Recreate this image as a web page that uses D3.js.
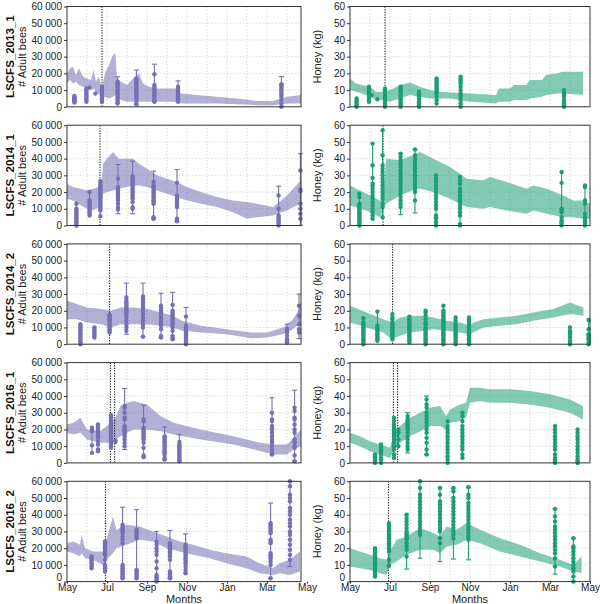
<!DOCTYPE html>
<html>
<head>
<meta charset="utf-8">
<script src="https://cdn.jsdelivr.net/npm/d3@7"></script>
<style>
body { margin: 0; background: #fff; }
svg text { font-family: "Liberation Sans", Arial, sans-serif; }
</style>
</head>
<body>
<svg id="chart" width="600" height="604"></svg>
<script>
// months since 1 May; bees in thousands, honey in kg
var colonies = ['LSCFS_2013_1', 'LSCFS_2014_1', 'LSCFS_2014_2', 'LSCFS_2016_1', 'LSCFS_2016_2']
var monthLabels = ['May', 'Jul', 'Sep', 'Nov', 'Jan', 'Mar', 'May']
var yTicks = [0, 10, 20, 30, 40, 50, 60]

var events_2013_1 = [1.75]
var events_2014_1 = [1.65]
var events_2014_2 = [2.13]
var events_2016_1 = [2.17, 2.38]
var events_2016_2 = [1.92]

// [month, low, high]
var beesBand_2013_1 = [[0,14,20],[0.15,16,23],[0.3,14,24],[0.45,15,19],[0.6,13,23],[0.8,12,18],[1.0,11,17],[1.2,10,16],[1.33,11,22],[1.45,9,15],[1.58,8,18],[1.75,5,12],[1.9,6,20],[2.1,5,25],[2.3,6,31],[2.42,7,32],[2.5,6,17],[2.7,4,15],[3.0,3,13],[3.3,3,17],[3.6,3,20],[3.8,3,14],[4.1,3,12],[4.5,3,11],[5.0,3,11],[5.5,3,11],[5.7,2,8],[6.5,2,7],[7.5,2,6],[8.5,1.5,5],[9.5,1,3.5],[10.3,1,3.5],[11.0,2,6],[11.7,2,7]]
var beesBand_2014_1 = [[0,16,25],[0.3,15,23],[0.7,12,22],[1.0,10,21],[1.3,9,22],[1.6,11,23],[1.72,12,24],[1.8,19,37],[2.0,20,40],[2.3,21,44],[2.6,22,40],[3.0,23,40],[3.3,24,40],[3.6,24,37],[4.0,23,34],[4.5,21,30],[5.0,19,28],[5.5,17,26],[6.0,15,23],[6.7,13,20],[7.5,11,17],[8.3,8,15],[9.0,4,14],[9.5,5,13],[10.3,6,11],[11.0,9,18],[11.3,11,22],[11.7,13,27]]
var beesBand_2014_2 = [[0,15,26],[0.5,15,24],[1.0,13,22],[1.7,12,21],[2.2,10,20],[2.7,12,22],[3.3,12,22],[4.0,12,21],[4.7,11,19],[5.3,10,17],[5.75,8,14],[6.7,7,11],[8.0,6,9],[9.2,3.5,7],[10.0,4,7],[10.8,6,10],[11.3,9,15],[11.7,13,23]]
var beesBand_2016_1 = [[0,18,23],[0.33,17,24],[0.67,18,27],[1.0,14,20],[1.67,12,19],[2.17,12,24],[2.42,14,27],[2.67,16,34],[3.0,18,36],[3.33,20,37],[4.0,20,35],[4.67,19,28],[5.33,17,24],[6.67,14,20],[8.33,11,16],[9.67,7,12],[10.33,5,11],[11.0,5,11],[11.33,8,15],[11.7,10,20]]
var beesBand_2016_2 = [[0,18,23],[0.32,17,24],[0.65,15,22],[0.73,17,28],[0.9,14,20],[1.3,13,18],[1.8,10,18],[1.97,13,25],[2.3,17,39],[2.47,20,31],[2.97,22,34],[3.63,25,33],[4.3,24,30],[4.97,20,27],[5.63,18,24],[6.3,16,22],[7.13,14,19],[7.97,11,17],[8.97,8,15],[9.63,5,11],[10.3,4,8],[10.63,5,11],[11.13,4,13],[11.65,6,18]]

var honeyBand_2013_1 = [[0,10,17],[0.3,9,14],[0.6,8,13],[1.0,6,12],[1.3,4,9],[1.6,4,9],[2.0,3,10],[2.5,5,13],[3.0,7,14.5],[3.5,6,12],[4.0,5,10],[4.5,5,9],[5.0,5,8.5],[6.0,3,8],[7.3,2,7],[7.45,3,11],[8.0,3,11],[8.2,4,13],[8.8,4,13],[9.0,5,16],[9.6,6,16],[9.8,7,19],[10.4,8,20],[10.6,8,21],[11.65,7,21]]
var honeyBand_2014_1 = [[0,12,24],[0.83,9,19],[1.5,5,15],[1.67,9,18],[1.8,13,40],[2.5,18,39],[3.33,22,43],[3.5,22,44],[4.17,20,40],[5.0,16,35],[5.5,13,31],[5.83,11,28],[6.67,10,27],[7.0,11,29],[7.83,9,26],[8.83,7,22],[9.17,9,24],[9.83,7,22],[10.67,5,18],[11.17,5,15],[11.67,4,15],[12,4,13]]
var honeyBand_2014_2 = [[0,13,23],[0.83,10,19],[1.67,7,15],[2.08,3,13],[2.5,5,16],[3.0,7,17],[3.67,8,17],[4.17,9,16],[4.83,8,14],[5.5,7,13],[6.0,6,11],[6.17,7,13],[6.67,10,15],[7.5,11,16],[8.33,12,17],[9.17,14,19],[10.17,16,21],[11.0,18,25],[11.67,17,22]]
var honeyBand_2016_1 = [[0,12,18],[0.5,10,16],[1.0,7,13],[1.5,5,11],[2.0,3,9],[2.2,8,18],[2.5,12,22],[3.0,16,27],[3.5,19,30],[4.0,22,33],[4.5,22,34],[4.8,20,28],[5.0,24,32],[5.5,25,35],[5.8,27,36],[6.0,36,45],[6.5,37,45],[7.0,36,44],[8.0,36,44],[9.0,35,43],[10.0,33,41],[11.0,30,38],[11.65,26,34]]
var honeyBand_2016_2 = [[0,9,20],[0.5,8,18],[1.0,7,16],[1.5,5,14],[1.83,4,13],[2.0,10,18],[2.33,12,25],[2.83,16,27],[3.5,19,32],[4.17,19,29],[4.5,17,27],[4.83,21,33],[5.33,22,31],[5.83,25,35],[6.5,23,31],[7.5,18,26],[8.5,15,22],[9.5,12,17],[10.5,9,13],[11.17,6,10],[11.58,5,15]]

// [month, observed values, whisker [low, high] or null]
var beesObs_2013_1 = [[0.37,[2.5,3,3.5,4,4.5,5,5.5,6,6.5],null],[0.97,[3,4,5,6,7,8,9,10,11],null],[1.12,[11.5],null],[1.42,[8],null],[1.75,[3,4,5,6,7,8,9,10,11,12],null],[2.53,[2,3,4,5,6,7,8,9,10,11,12,13,14,15],[2,18]],[3.47,[1.5,3,5,6,7,8,9,10,11,12,13,14,15,16,17],[1.5,22]],[4.37,[3,4,5,6,7,8,9,10,11,12,13,19.5],[3,25.5]],[5.55,[3,4,5,6,7,8,9,10,11,12],[3,15.5]],[10.72,[0,2,4,6,7,8,9,10,11,12,13,13.5],[0,18]]]
var beesObs_2014_1 = [[0.47,[0,1,2,3,4,5,6,7,8,9,10,13],null],[1.13,[6,7,8,9,10,11,12,13,14,15,20],null],[1.67,[5.5,9,10,11,12,13,14,15,16,17,18,19,20,21,22,23,24,25,26.5],null],[2.55,[9.5,11,13,15,16,17,18,19,20,21,22,23,28],[7,36.5]],[3.28,[10,11,14,16,17,18,19,20,21,22,23,24,25,26,27,28,29.5],[7,38.5]],[4.33,[4,5,13,14,15,16,17,18,19,20,21,22,23,24,26],[4,32.5]],[5.5,[2.5,3,4,11,12,13,14,15,16,17,18,25.5],[2.5,33.5]],[10.58,[0,1,2,3,4,5,6,10,18],[0,23.5]],[11.67,[4,7,10,13,20.5,21.5,33],[0,43]]]
var beesObs_2014_2 = [[0.67,[0,1,2,3,4,5,6,7,8,9,10,11,12],null],[1.37,[4,5,6,7,8,9,10],null],[2.13,[7,8,9,10,11,12,13,14,15,16,17,17.5],null],[2.97,[8,10,12,14,16,18,19,20,21,22,23,24,25,26,28],[6,36.5]],[3.8,[4.5,10,12,14,16,18,20,21,22,23,24,25,26,27,28.5],[4.5,36.5]],[4.7,[4,5,9,11,12,13,14,15,16,17,18,19,20,21,22,23],[4,30.5]],[5.28,[3,4,5,8,10,12,13,14,15,16,17,18,19,20,23.5],[3,31]],[5.95,[0,1,2,3,4,5,6,7,8,9,10,11,16.5],[0,22]],[11.0,[1,2,3,5,7,8,9],[1,12]],[11.6,[7,9,12,17,23],[3.3,30]]]
var beesObs_2016_1 = [[1.25,[6,10.5,19,20,21],null],[1.55,[7,8,11,13,15,16,17,18,19,20,21,22,23],null],[2.2,[9,10,11,12,13,14,15,16,17,18,19,20,21,22,23,24,25,26,27,28.5],null],[2.42,[12.5,13.5],null],[2.88,[10,12,14,16,17,18,19,20,21,22,26,27,30,33,34],[8,44.5]],[3.83,[3.5,4.5,9,12,14,15,16,17,18,19,20,21,25,26],[3.5,34.5]],[4.88,[2,3,5,6,7,8,9,10,11,12,13,14,15,16],[2,21.5]],[5.62,[1,2,3,4,5,6,7,8,9,10,11,12.5],[1,17]],[10.25,[5,6,8,10,12,13,14,16,18,20,21,22,25,26,30],[5,39]],[11.38,[1,4.5,9,10,12,13,14,18,20,23,26,27,31,33],[1,43.5]]]
var beesObs_2016_2 = [[1.23,[8,9,10,11,12,13,14,15],null],[1.9,[6,7,8,9,10,13,16,17,18,19,20,21,22,23,24],null],[2.78,[2,3,4,5,6,7,8,9,10,23,25,27,29,30,31,32,33,34],[2,44.5]],[3.48,[2,3,4,5,6,7,26,27,28,29,30,31],[2,43]],[4.48,[0,1,2,3,4,8,12,16,18,20,22,24],[0,30]],[5.15,[2,3,4,5,6,13,15,17,18,19,20,21,22,23],[2,30.5]],[5.93,[5,7,9,11,12,13,14,15,16,17,18,19,20,21,22],[5,28.5]],[10.18,[2,10,12,14,15,16,17,23,24,25,29,30,31,32,33,34,35],[2,47]],[11.15,[13,16,19,22,25,28,30,33,35,37,40,42,44,48,50,52,57,60],[9,60]]]

var honeyObs_2013_1 = [[0.33,[0,1,2,3,4,5],null],[0.95,[3,4,5,6,7,8,9,10,11,12],null],[1.08,[7],null],[1.37,[4.5],null],[1.75,[0,1,2,3,4,5,6,7,8,9,10,11],null],[2.53,[0,1,2,3,4,5,6,7,8,9,10,11,12],null],[3.45,[0,1,2,3,4,5,6,7,8,9],null],[4.33,[2,4,6,8,9,10,11,12,13,14,15,16,17],null],[5.53,[0,2,4,6,7,8,10,12,14,15,16,17,18],null],[10.7,[0,1,2,3,4,6,7,8,9,10],null]]
var honeyObs_2014_1 = [[0.47,[0,1,2,3,4,5,6,7,8,9,10,11,12,13,17,19],null],[1.13,[4,6,8,10,12,14,16,18,20,22,24,25,28.5,36,49],null],[1.63,[5,11,13,16,18,20,22,24,26,28,30,32,34,36,42,57],null],[2.53,[11,13,15,17,19,21,23,25,27,29,31,33,35,37,39,41,43],[6.5,43]],[3.25,[15,20,22,24,26,28,30,32,34,36,38,40,42,45.5],[7.5,45.5]],[4.3,[0,2,4,5,6,10,12,14,16,18,20,22,24,26,28,30],null],[5.5,[0,1,6,8,10,12,14,15,16,18,20,22,25,27,29],null],[10.58,[0,1,2,3,5,8,9,10,25.5,32],null],[11.75,[0,1,2,3,4,5,7,13,15,23,24],null]]
var honeyObs_2014_2 = [[0.67,[0,1,2,3,4,5,6,7,8,9,10,11,12,13,15.5],null],[1.37,[2,3,4,5,6,7,8,9,10,11,19.5],null],[2.12,[3,4,5,6,7,8,9,10,11,12,13,15,16,18],null],[2.97,[1,2,3,4,5,6,7,8,9,10,11,12,13,14,15,16.5],null],[3.78,[0,1,2,3,4,5,6,7,8,9,10,12,13,15,17,19,20],null],[4.67,[0,1,2,3,4,5,6,7,8,9,10,11,12,13,14,15,16,17,18,19,20,23],null],[5.28,[0,1,2,3,4,5,6,7,8,9,10,11,12,14,16],null],[5.95,[0,1,2,3,4,5,6,7,8,9,10,11,12,13,14,15,16],null],[11.0,[0,1,2,4,6,7,8,10],null],[11.93,[0,1,3,4,5,6,9,14.5],null]]
var honeyObs_2016_1 = [[1.25,[0,1,2,3,4,5],null],[1.55,[0,2,3,5,6,7,8,9,10,11],null],[2.2,[3,5,8,10,12,14,16,17,18,19,20,21,22,23,25,27],null],[2.42,[10,14,18,20],null],[2.88,[8,10,12,14,16,18,20,21,22,23,24,25,26,28],[6,30]],[3.83,[5,8,12,15,18,20,22,24,26,28,30,33,35,38],[5,40]],[4.88,[0,2,4,6,8,10,12,14,16,18,20,22,25],null],[5.62,[3,5,8,10,12,14,16,18,20,22,25,28,30],null],[10.25,[0,1,2,3,5,8,10,12,14,16,18,20,22],null],[11.38,[0,1,2,4,6,8,10,12,14,16,18,20],null]]
var honeyObs_2016_2 = [[1.25,[3,4,5,6,7,8,9,10,11,12,13,14,15,16,17,18,19,20],null],[1.95,[9.5,13,18,19,20,21,22,23,24,25,26,27,28,29,30,31,32,33,34,35],null],[2.83,[15,19,21,23,25,26,27,28,29,30,32,34,36,38,40],[7.5,40]],[3.5,[28,30,32,34,36,38,40,42,44,46,48,50,52,56,60],[14,60]],[4.5,[23,26,30,32,34,36,38,40,42,44,46,48,52,56],[12,56]],[5.17,[26,28,30,32,34,36,38,40,42,44,46,48,50,54,56],[13.5,56]],[5.92,[25,27,29,31,33,35,37,39,41,43,45,47,50,52,56.5],[13,56.5]],[10.25,[9,14,17,19,21,23,25,27,29,31,33,36,39,43.5],[4.5,43.5]],[11.17,[0,3,6,8,10,12,14,16,18,20,21,26],[0,26]]]

var events = [events_2013_1, events_2014_1, events_2014_2, events_2016_1, events_2016_2]
var beesBands = [beesBand_2013_1, beesBand_2014_1, beesBand_2014_2, beesBand_2016_1, beesBand_2016_2]
var honeyBands = [honeyBand_2013_1, honeyBand_2014_1, honeyBand_2014_2, honeyBand_2016_1, honeyBand_2016_2]
var beesObs = [beesObs_2013_1, beesObs_2014_1, beesObs_2014_2, beesObs_2016_1, beesObs_2016_2]
var honeyObs = [honeyObs_2013_1, honeyObs_2014_1, honeyObs_2014_2, honeyObs_2016_1, honeyObs_2016_2]

var svg = d3.select('#chart')
var rowTop = 6.5, rowStep = 118.7, rowH = 100.3
var cols = [
    { x0: 67, x1: 301, r0: 67, r1: 307, title: '# Adult bees', titleX: 26, col: '#7570b3', bands: beesBands, obs: beesObs,
      fmt: function(d) { return d == 0 ? '0' : d3.format(',')(d * 1000).replace(',', ' ') } },
    { x0: 350, x1: 590, r0: 350, r1: 590, title: 'Honey (kg)', titleX: 321, col: '#1b9e77', bands: honeyBands, obs: honeyObs,
      fmt: function(d) { return d } }
]

var defs = svg.append('defs')

colonies.forEach(function(name, i) {
    var top = rowTop + i * rowStep
    var bottom = top + rowH
    cols.forEach(function(c, j) {
        var x = d3.scaleLinear().domain([0, 12]).range([c.r0, c.r1])
        var y = d3.scaleLinear().domain([0, 60]).range([bottom, top])
        var clipId = 'clip' + i + '_' + j
        defs.append('clipPath').attr('id', clipId)
            .append('rect').attr('x', c.x0).attr('y', top).attr('width', c.x1 - c.x0).attr('height', rowH)
        var g = svg.append('g')
        var inner = g.append('g').attr('clip-path', 'url(#' + clipId + ')')

        // grid
        inner.selectAll('line.hgrid')
            .data([10, 20, 30, 40, 50])
            .enter().append('line')
            .attr('x1', c.x0).attr('x2', c.x1)
            .attr('y1', function(d) { return y(d) }).attr('y2', function(d) { return y(d) })
            .attr('stroke', '#c8c8c8').attr('stroke-width', 0.8).attr('stroke-dasharray', '1.2,2')
        inner.selectAll('line.vgrid')
            .data(d3.range(1, 12))
            .enter().append('line')
            .attr('y1', top).attr('y2', bottom)
            .attr('x1', function(d) { return x(d) }).attr('x2', function(d) { return x(d) })
            .attr('stroke', '#c8c8c8').attr('stroke-width', 0.8).attr('stroke-dasharray', '1.2,2')

        // simulated band
        var area = d3.area()
            .x(function(d) { return x(d[0]) })
            .y0(function(d) { return y(d[1]) })
            .y1(function(d) { return y(d[2]) })
        inner.append('path')
            .datum(c.bands[i])
            .attr('d', area)
            .attr('fill', c.col).attr('fill-opacity', 0.55)

        // event lines
        inner.selectAll('line.event')
            .data(events[i])
            .enter().append('line')
            .attr('x1', function(d) { return x(d) }).attr('x2', function(d) { return x(d) })
            .attr('y1', top).attr('y2', bottom)
            .attr('stroke', '#111').attr('stroke-width', 1).attr('stroke-dasharray', '1.3,1.3')

        // observations
        var obs = g.selectAll('g.obs')
            .data(c.obs[i])
            .enter().append('g')
        obs.append('line')
            .attr('x1', function(d) { return x(d[0]) }).attr('x2', function(d) { return x(d[0]) })
            .attr('y1', function(d) { return y(d3.min(d[1].concat(d[2] || []))) })
            .attr('y2', function(d) { return y(d3.max(d[1].concat(d[2] || []))) })
            .attr('stroke', c.col).attr('stroke-width', 1.1)
        obs.filter(function(d) { return d[2] }).each(function(d) {
            var gx = x(d[0])
            d3.select(this).selectAll('line.cap')
                .data(d[2])
                .enter().append('line')
                .attr('x1', gx - 2.5).attr('x2', gx + 2.5)
                .attr('y1', function(v) { return y(v) }).attr('y2', function(v) { return y(v) })
                .attr('stroke', c.col).attr('stroke-width', 1.1)
        })
        obs.each(function(d) {
            var gx = x(d[0])
            d3.select(this).selectAll('circle')
                .data(d[1])
                .enter().append('circle')
                .attr('cx', gx).attr('cy', function(v) { return y(v) })
                .attr('r', 2.2).attr('fill', c.col)
        })

        // frame
        g.append('rect')
            .attr('x', c.x0).attr('y', top).attr('width', c.x1 - c.x0).attr('height', rowH)
            .attr('fill', 'none').attr('stroke', '#333').attr('stroke-width', 1)

        // y axis
        var ya = g.append('g').attr('transform', 'translate(' + c.x0 + ',0)')
            .call(d3.axisLeft(y).tickValues(yTicks).tickSize(3).tickPadding(2).tickFormat(c.fmt))
        ya.select('.domain').remove()
        ya.selectAll('text').attr('font-size', 10).attr('fill', '#222').style('font-family', '"Liberation Sans", Arial, sans-serif')
        ya.selectAll('line').attr('stroke', '#333')
        if (i == colonies.length - 1) ya.selectAll('.tick text').filter(function(d) { return d == 0 }).attr('dy', '-0.15em')

        g.append('text')
            .attr('transform', 'translate(' + c.titleX + ',' + (top + rowH / 2) + ') rotate(-90)')
            .attr('text-anchor', 'middle')
            .attr('font-size', 11).attr('fill', '#222')
            .text(c.title)
        if (j == 0) {
            g.append('text')
                .attr('transform', 'translate(14,' + (top + rowH / 2) + ') rotate(-90)')
                .attr('text-anchor', 'middle')
                .attr('font-size', 11.5).attr('font-weight', 'bold').attr('fill', '#111')
                .text(name)
        }

        if (i == colonies.length - 1) {
            var xa = g.append('g').attr('transform', 'translate(0,' + bottom + ')')
                .call(d3.axisBottom(x).tickValues([0, 2, 4, 6, 8, 10, 12]).tickSize(2).tickPadding(0)
                    .tickFormat(function(d) { return monthLabels[d / 2] }))
            xa.select('.domain').remove()
            xa.selectAll('text').attr('font-size', 10).attr('dy', '0.74em').attr('fill', '#222').style('font-family', '"Liberation Sans", Arial, sans-serif')
            xa.selectAll('line').attr('stroke', '#333')
            g.append('text')
                .attr('x', (c.x0 + c.x1) / 2).attr('y', 603)
                .attr('text-anchor', 'middle')
                .attr('font-size', 11).attr('fill', '#222')
                .text('Months')
        }
    })
})
</script>
</body>
</html>
